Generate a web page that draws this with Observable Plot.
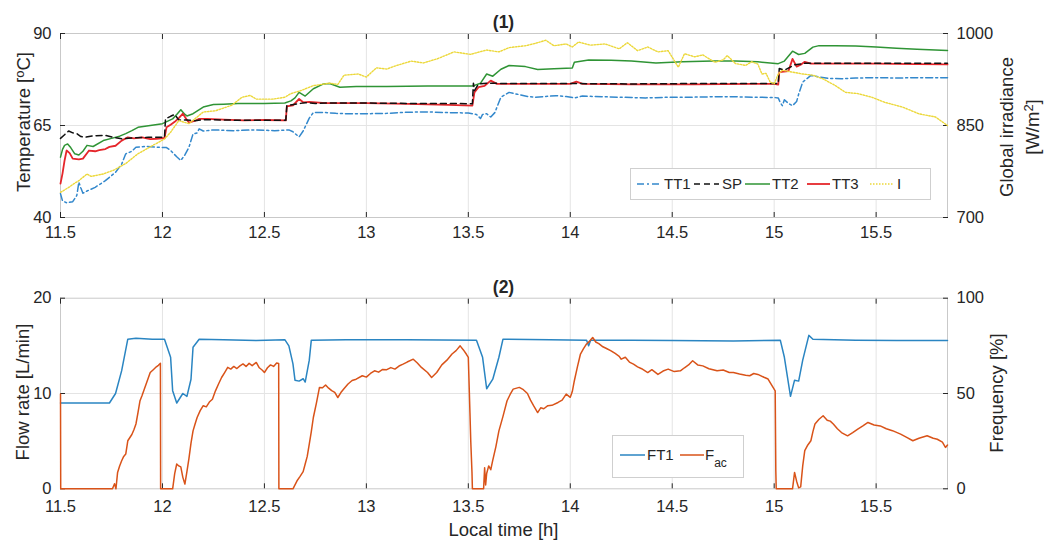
<!DOCTYPE html>
<html><head><meta charset="utf-8">
<script src="https://cdn.jsdelivr.net/npm/d3@7"></script>
<script src="https://cdn.jsdelivr.net/npm/@observablehq/plot@0.6"></script>
<style>
body{margin:0;background:#fff;font-family:"Liberation Sans",Arial,Helvetica,sans-serif;color:#262626}
#wrap{position:relative;width:1048px;height:541px;overflow:hidden}
.panel{position:absolute;left:0}
.vlab{position:absolute;transform:translate(-50%,-50%) rotate(-90deg);white-space:nowrap;font-size:18.5px;text-align:center;line-height:1.4}
.hlab{position:absolute;transform:translate(-50%,-50%);white-space:nowrap;font-size:18.5px}
.ttl{position:absolute;transform:translate(-50%,-50%);font-weight:bold;font-size:17.5px;white-space:nowrap}
sup{font-size:0.7em;vertical-align:0.5em;line-height:0}
.leg{position:absolute}
</style></head><body><div id="wrap"></div>
<script>
// ---------- data ----------
const xDomain = [11.5, 15.85];
const xTicks = [11.5, 12, 12.5, 13, 13.5, 14, 14.5, 15, 15.5];
const tempTicks = [40, 65, 90];
const irrTicks = [700, 850, 1000];
const flowTicks = [0, 10, 20];
const freqTicks = [0, 50, 100];

const tt1 = [[11.50,46.5],[11.51,44.5],[11.53,44.0],[11.56,44.3],[11.58,46.0],[11.59,49.6],[11.60,48.0],[11.61,46.6],[11.63,47.2],[11.67,48.2],[11.72,50.0],[11.77,52.3],[11.80,54.5],[11.82,57.3],[11.85,58.0],[11.87,59.1],[11.92,59.3],[11.97,59.1],[12.02,59.0],[12.04,58.2],[12.07,56.5],[12.09,55.5],[12.11,57.0],[12.13,59.1],[12.15,62.7],[12.17,63.0],[12.18,64.1],[12.20,63.5],[12.25,63.8],[12.35,63.6],[12.45,63.8],[12.55,63.6],[12.62,63.8],[12.64,63.3],[12.67,61.9],[12.69,63.5],[12.72,67.0],[12.74,68.5],[12.80,68.5],[12.85,68.3],[12.90,68.2],[13.0,68.2],[13.1,68.3],[13.2,68.6],[13.3,68.7],[13.4,68.5],[13.5,68.4],[13.54,68.0],[13.56,66.9],[13.57,68.0],[13.59,68.2],[13.61,67.3],[13.63,68.5],[13.66,72.7],[13.70,74.0],[13.74,73.5],[13.79,72.9],[13.83,72.7],[13.88,72.9],[13.93,73.1],[13.98,72.9],[14.02,72.5],[14.06,73.0],[14.17,72.8],[14.3,72.6],[14.37,72.5],[14.5,72.7],[14.6,72.7],[14.7,72.8],[14.81,72.8],[14.9,72.7],[15.0,72.6],[15.02,72.5],[15.03,71.2],[15.04,70.4],[15.05,72.0],[15.07,71.0],[15.09,70.4],[15.11,71.5],[15.12,73.5],[15.14,76.8],[15.18,78.6],[15.22,78.2],[15.27,77.8],[15.33,77.7],[15.4,77.9],[15.5,78.0],[15.6,77.9],[15.7,78.0],[15.85,78.0]];

const sp = [[11.50,61.5],[11.52,62.5],[11.54,63.5],[11.56,63.0],[11.58,62.8],[11.60,62.0],[11.62,61.8],[11.66,62.2],[11.72,62.3],[11.76,61.8],[11.80,61.4],[11.85,61.6],[11.93,61.8],[12.01,61.8],[12.015,66.8],[12.04,67.5],[12.06,68.0],[12.08,66.5],[12.12,66.5],[12.16,66.3],[12.20,66.6],[12.3,66.5],[12.4,66.4],[12.5,66.4],[12.605,66.4],[12.61,70.4],[12.65,70.8],[12.7,71.2],[12.75,71.0],[12.8,71.1],[13.0,71.1],[13.2,71.0],[13.4,71.0],[13.52,70.9],[13.525,76.5],[13.53,74.5],[13.55,76.3],[13.6,76.5],[13.7,76.4],[14.0,76.4],[14.3,76.3],[14.6,76.4],[15.0,76.4],[15.02,76.4],[15.025,80.5],[15.05,80.0],[15.1,81.5],[15.15,81.9],[15.3,81.9],[15.5,81.9],[15.85,81.9]];

const tt2 = [[11.50,56.4],[11.51,58.5],[11.52,59.6],[11.535,60.0],[11.55,59.0],[11.57,57.3],[11.59,57.0],[11.61,58.0],[11.63,59.6],[11.66,59.3],[11.71,60.9],[11.75,61.5],[11.79,62.1],[11.82,62.8],[11.85,63.6],[11.88,64.5],[11.94,65.0],[12.0,65.5],[12.05,66.8],[12.07,68.0],[12.09,69.3],[12.11,68.0],[12.12,67.6],[12.15,68.2],[12.2,70.0],[12.25,70.7],[12.3,70.8],[12.37,71.0],[12.5,71.0],[12.6,71.1],[12.63,71.7],[12.65,72.5],[12.67,74.0],[12.70,73.0],[12.74,75.0],[12.79,76.3],[12.82,76.4],[12.87,75.4],[12.95,75.6],[13.1,75.6],[13.3,75.7],[13.52,75.7],[13.56,76.5],[13.59,79.0],[13.62,78.4],[13.66,80.3],[13.70,81.3],[13.78,81.0],[13.84,80.2],[13.92,80.4],[14.01,80.6],[14.02,82.2],[14.09,82.8],[14.2,82.7],[14.3,82.5],[14.42,82.0],[14.55,82.3],[14.7,82.5],[14.81,82.5],[14.92,82.3],[15.02,81.8],[15.05,82.5],[15.09,85.2],[15.12,84.3],[15.15,84.6],[15.19,86.3],[15.22,86.7],[15.3,86.7],[15.4,86.6],[15.5,86.3],[15.6,86.0],[15.7,85.7],[15.85,85.4]];

const tt3 = [[11.50,49.2],[11.51,52.0],[11.52,55.5],[11.53,58.2],[11.545,57.5],[11.56,56.0],[11.59,55.8],[11.61,56.0],[11.64,58.2],[11.67,58.0],[11.69,58.3],[11.72,58.6],[11.74,59.2],[11.77,59.5],[11.80,60.9],[11.83,61.8],[11.86,61.5],[11.90,61.8],[11.94,61.3],[11.97,61.4],[12.01,61.6],[12.02,64.5],[12.04,65.2],[12.06,66.0],[12.08,67.0],[12.10,68.2],[12.12,66.5],[12.13,65.8],[12.16,66.3],[12.18,66.8],[12.22,66.8],[12.3,66.6],[12.4,66.4],[12.5,66.5],[12.605,66.4],[12.61,70.2],[12.64,70.5],[12.67,72.2],[12.69,71.3],[12.72,71.4],[12.8,71.1],[13.0,71.1],[13.2,70.9],[13.4,70.6],[13.52,70.4],[13.53,74.0],[13.55,75.4],[13.58,75.8],[13.61,77.2],[13.64,76.3],[13.7,76.3],[13.9,76.3],[14.0,76.3],[14.03,76.9],[14.06,76.3],[14.3,76.2],[14.6,76.2],[14.9,76.3],[15.0,76.3],[15.02,76.1],[15.025,79.5],[15.07,79.8],[15.09,83.1],[15.11,81.0],[15.13,81.5],[15.15,82.3],[15.18,81.8],[15.3,81.8],[15.5,81.8],[15.7,81.7],[15.85,81.6]];

const irr = [[11.50,741],[11.54,749],[11.57,756],[11.59,760],[11.63,771],[11.65,767],[11.71,771],[11.76,777],[11.82,788],[11.88,804],[11.95,817],[12.01,828],[12.04,839],[12.08,858],[12.13,853],[12.2,872],[12.26,874],[12.34,883],[12.39,896],[12.43,899],[12.46,893],[12.54,893],[12.6,896],[12.63,902],[12.68,907],[12.74,915],[12.82,919],[12.86,917],[12.89,932],[12.96,934],[13.0,929],[13.05,944],[13.1,942],[13.15,948],[13.22,955],[13.28,952],[13.35,959],[13.43,970],[13.51,966],[13.59,973],[13.65,970],[13.7,977],[13.78,980],[13.83,984],[13.88,989],[13.92,980],[13.98,983],[14.01,978],[14.04,986],[14.1,981],[14.17,983],[14.24,975],[14.28,985],[14.33,972],[14.38,978],[14.43,970],[14.48,972],[14.53,945],[14.56,967],[14.61,962],[14.65,965],[14.71,953],[14.75,957],[14.77,964],[14.81,951],[14.86,948],[14.89,954],[14.92,950],[14.94,934],[14.96,935],[14.98,921],[15.0,918],[15.02,934],[15.04,940],[15.09,937],[15.14,934],[15.19,932],[15.24,926],[15.3,915],[15.35,904],[15.41,902],[15.48,896],[15.54,888],[15.63,880],[15.71,869],[15.79,864],[15.85,850]];

const ft1 = [[11.5,9.0],[11.6,9.0],[11.74,9.0],[11.77,10.0],[11.80,12.4],[11.83,15.7],[11.87,15.8],[11.95,15.7],[12.01,15.7],[12.04,13.8],[12.05,10.3],[12.07,9.0],[12.10,10.0],[12.12,9.7],[12.14,11.5],[12.15,14.85],[12.18,15.7],[12.3,15.65],[12.46,15.55],[12.6,15.65],[12.62,15.0],[12.64,13.1],[12.65,11.4],[12.67,11.3],[12.69,11.55],[12.70,11.2],[12.72,13.5],[12.73,15.6],[12.9,15.65],[13.2,15.65],[13.54,15.6],[13.57,13.8],[13.59,10.5],[13.62,11.5],[13.65,13.8],[13.67,15.7],[13.9,15.65],[14.08,15.6],[14.09,15.0],[14.1,15.6],[14.3,15.6],[14.5,15.55],[14.8,15.5],[15.03,15.6],[15.05,13.8],[15.08,9.7],[15.10,11.4],[15.12,11.3],[15.14,13.5],[15.17,16.1],[15.19,15.7],[15.4,15.6],[15.6,15.55],[15.85,15.55]];

const fac = [[11.500,49.7],[11.501,0],[11.755,0],[11.765,2.7],[11.772,0],[11.780,8.6],[11.790,12],[11.800,14.7],[11.810,17],[11.820,18.2],[11.830,25.2],[11.850,28.5],[11.860,31],[11.870,34],[11.880,40],[11.890,46.2],[11.900,49],[11.910,52],[11.920,55],[11.930,58],[11.940,61],[11.955,62.5],[11.970,64],[11.980,64.8],[11.990,65.8],[11.991,0],
[12.050,0],[12.060,8],[12.070,13],[12.080,12],[12.090,11.5],[12.100,6],[12.110,2.5],[12.120,9],[12.130,16],[12.140,24],[12.150,30.4],[12.160,34],[12.170,37.4],[12.185,41],[12.200,43.6],[12.215,43],[12.230,45.5],[12.245,47],[12.260,51.4],[12.275,55],[12.290,58.4],[12.305,61],[12.320,63.7],[12.335,62.8],[12.350,64.2],[12.365,63.1],[12.380,64.5],[12.395,65.5],[12.410,64.2],[12.425,65.8],[12.440,64.6],[12.460,66.3],[12.475,63.5],[12.490,62.2],[12.500,61],[12.515,63.5],[12.530,65],[12.545,64.2],[12.560,66],[12.570,65.8],[12.571,0],
[12.640,0],[12.660,4.2],[12.675,6.5],[12.690,9],[12.700,13],[12.710,17],[12.720,23.5],[12.730,30],[12.740,37.4],[12.755,45],[12.770,53.2],[12.785,53],[12.800,54.5],[12.815,52.8],[12.830,51.5],[12.845,50.6],[12.860,47.9],[12.875,50.5],[12.890,52.5],[12.910,55],[12.930,56.8],[12.950,57.5],[12.980,59.3],[13.000,58.6],[13.020,60.5],[13.040,61.9],[13.060,61.2],[13.080,62.6],[13.100,62.5],[13.120,63.6],[13.140,62.8],[13.160,64.4],[13.180,65.4],[13.200,66.5],[13.230,68],[13.250,66],[13.270,63.7],[13.300,61],[13.320,58.4],[13.345,61],[13.370,65],[13.395,67.5],[13.420,70.7],[13.440,72.5],[13.460,75],[13.475,73],[13.490,70.7],[13.500,69],[13.508,40],[13.512,25],[13.518,8.6],[13.520,0],
[13.575,0],[13.580,11],[13.585,2],[13.590,8],[13.600,12],[13.610,10],[13.620,15],[13.635,22],[13.650,30.4],[13.670,38],[13.690,46.2],[13.705,49.5],[13.720,52.3],[13.750,53.2],[13.770,52],[13.790,50],[13.805,46.5],[13.820,43.6],[13.840,40],[13.855,42.5],[13.870,42],[13.890,43.6],[13.910,43.8],[13.940,45.3],[13.960,46.5],[13.980,49.7],[14.000,48],[14.010,51],[14.020,56.7],[14.035,64],[14.050,70.7],[14.065,73.5],[14.080,76],[14.095,77.5],[14.110,79.4],[14.125,77],[14.140,76.2],[14.160,74.5],[14.180,73.5],[14.200,72.4],[14.220,71],[14.240,69.5],[14.250,68],[14.270,69],[14.290,66.5],[14.310,65.4],[14.330,64],[14.350,63],[14.380,61],[14.400,62.5],[14.430,60],[14.455,61.8],[14.480,62.8],[14.510,61.5],[14.540,61.9],[14.560,63.5],[14.580,65],[14.600,67.2],[14.625,65],[14.650,64.5],[14.680,63],[14.720,61.9],[14.750,62.3],[14.780,61],[14.800,61],[14.830,60.2],[14.860,59.6],[14.880,59.3],[14.900,60.5],[14.920,60],[14.950,58.5],[14.970,57.6],[14.990,54],[15.005,51.4],[15.008,9.5],[15.010,0],
[15.090,0],[15.100,8.6],[15.110,4],[15.120,0.5],[15.130,1],[15.140,12],[15.150,20],[15.165,23],[15.180,25.2],[15.190,30],[15.200,34],[15.220,36.5],[15.240,38.3],[15.260,36],[15.275,35.5],[15.290,34],[15.310,31.5],[15.330,29.5],[15.360,27.8],[15.385,29.5],[15.410,31.3],[15.435,33],[15.460,34.8],[15.490,33.5],[15.520,33],[15.550,31.5],[15.580,30.5],[15.620,28.7],[15.650,27],[15.680,25.2],[15.710,26.5],[15.750,27.8],[15.780,26.5],[15.800,26],[15.825,24.5],[15.840,21.7],[15.850,23]];

// ---------- styles ----------
const C = {tt1:"#3388cc", sp:"#111111", tt2:"#2f9435", tt3:"#e5262b", irr:"#ecd83a", ft1:"#2a85c2", fac:"#d95319"};
const font = '"Liberation Sans", Arial, Helvetica, sans-serif';
const fmt = d => String(d);
const X = d => d[0], Y = d => d[1];
const W = 1048, ML = 60, MR = 101;
const baseStyle = {fontFamily: font, fontSize: "16.5px", color: "#262626", background: "transparent", overflow: "visible"};
const gridStroke = "#e4e4e4";

function leftPlot({height, mt, mb, yDomain, yTicks, midTick, xPad, lines}) {
  return Plot.plot({
    width: W, height, marginTop: mt, marginBottom: mb, marginLeft: ML, marginRight: MR,
    style: baseStyle,
    x: {domain: xDomain},
    y: {domain: yDomain},
    marks: [
      Plot.gridX(xTicks, {stroke: gridStroke, strokeOpacity: 1}),
      Plot.gridY([midTick], {stroke: gridStroke, strokeOpacity: 1}),
      Plot.frame({stroke: "#c9c9c9"}),
      Plot.axisX(xTicks, {anchor: "bottom", tickSize: -5, tickPadding: xPad, tickFormat: fmt, label: null}),
      Plot.axisX(xTicks, {anchor: "top", tickSize: -5, tickFormat: () => "", label: null}),
      Plot.axisY(yTicks, {anchor: "left", tickSize: -5, tickFormat: fmt, label: null}),
      ...lines
    ]
  });
}
function rightPlot({height, mt, mb, yDomain, yTicks, lines}) {
  return Plot.plot({
    width: W, height, marginTop: mt, marginBottom: mb, marginLeft: ML, marginRight: MR,
    style: baseStyle,
    x: {domain: xDomain, axis: null},
    y: {domain: yDomain},
    marks: [
      Plot.axisY(yTicks, {anchor: "right", tickSize: -5, tickFormat: fmt, label: null}),
      ...lines
    ]
  });
}

const wrap = document.getElementById("wrap");
function place(node, top) { node.classList.add("panel"); node.style.top = top + "px"; wrap.appendChild(node); }

// Panel 1
const p1 = {height: 250, mt: 33, mb: 33};
place(leftPlot({...p1, xPad: 14, yDomain: [40, 90], yTicks: tempTicks, midTick: 65, lines: [
  Plot.line(tt1, {x: X, y: Y, stroke: C.tt1, strokeWidth: 1.5, strokeDasharray: "7,3,2,3"}),
  Plot.line(tt2, {x: X, y: Y, stroke: C.tt2, strokeWidth: 1.5}),
  Plot.line(tt3, {x: X, y: Y, stroke: C.tt3, strokeWidth: 1.8}),
  Plot.line(sp, {x: X, y: Y, stroke: C.sp, strokeWidth: 1.5, strokeDasharray: "6,4"})
]}), 0);
place(rightPlot({...p1, yDomain: [700, 1000], yTicks: irrTicks, lines: [
  Plot.line(irr, {x: X, y: Y, stroke: C.irr, strokeWidth: 1.4, strokeDasharray: "1.5,1.5"})
]}), 0);

// Panel 2
const p2 = {height: 281, mt: 37.7, mb: 52.7};
place(leftPlot({...p2, xPad: 16, yDomain: [0, 20], yTicks: flowTicks, midTick: 10, lines: [
  Plot.line(ft1, {x: X, y: Y, stroke: C.ft1, strokeWidth: 1.5})
]}), 260);
place(rightPlot({...p2, yDomain: [0, 100], yTicks: freqTicks, lines: [
  Plot.line(fac, {x: X, y: Y, stroke: C.fac, strokeWidth: 1.5})
]}), 260);

// Labels
function addDiv(cls, html, left, top) {
  const d = document.createElement("div");
  d.className = cls; d.innerHTML = html; d.style.left = left + "px"; d.style.top = top + "px";
  wrap.appendChild(d);
}
addDiv("ttl", "(1)", 503.5, 22);
addDiv("ttl", "(2)", 503.5, 287);
addDiv("hlab", "Local time [h]", 503.5, 530);
addDiv("vlab", "Temperature [<sup>o</sup>C]", 24, 122);
addDiv("vlab", "Global irradiance<br>[W/m<sup>2</sup>]", 1020, 127);
addDiv("vlab", "Flow rate [L/min]", 23, 392);
addDiv("vlab", "Frequency [%]", 997, 393);

// Legends
function legend({left, top, width, height, items, ly}) {
  const svg = d3.create("svg").attr("class", "leg").attr("width", width).attr("height", height)
    .style("left", left + "px").style("top", top + "px");
  svg.append("rect").attr("x", 0.5).attr("y", 0.5).attr("width", width - 1).attr("height", height - 1)
    .attr("fill", "#fff").attr("stroke", "#cfcfcf");
  for (const it of items) {
    svg.append("line").attr("x1", it.x0).attr("x2", it.x1).attr("y1", ly).attr("y2", ly)
      .attr("stroke", it.color).attr("stroke-width", it.w || 1.5).attr("stroke-dasharray", it.dash || null);
    const t = svg.append("text").attr("x", it.tx).attr("y", ly).attr("dy", "0.36em")
      .attr("font-family", font).attr("font-size", 15).attr("fill", "#262626");
    t.append("tspan").text(it.label);
    if (it.sub) t.append("tspan").attr("font-size", 12).attr("dy", "0.55em").text(it.sub);
  }
  wrap.appendChild(svg.node());
}
legend({left: 630, top: 168, width: 301, height: 32, ly: 16, items: [
  {label: "TT1", color: C.tt1, dash: "7,3,2,3", x0: 7, x1: 32, tx: 34},
  {label: "SP", color: C.sp, dash: "6,4", x0: 64, x1: 89, tx: 92},
  {label: "TT2", color: C.tt2, x0: 115, x1: 140, tx: 142},
  {label: "TT3", color: C.tt3, x0: 177, x1: 200, tx: 202, w: 1.8},
  {label: "I", color: C.irr, dash: "1.5,1.5", x0: 240, x1: 264, tx: 267, w: 1.4}
]});
legend({left: 612, top: 435, width: 132, height: 43, ly: 20, items: [
  {label: "FT1", color: C.ft1, x0: 8, x1: 33, tx: 35},
  {label: "F", sub: "ac", color: C.fac, x0: 68, x1: 92, tx: 93}
]});
</script></body></html>
